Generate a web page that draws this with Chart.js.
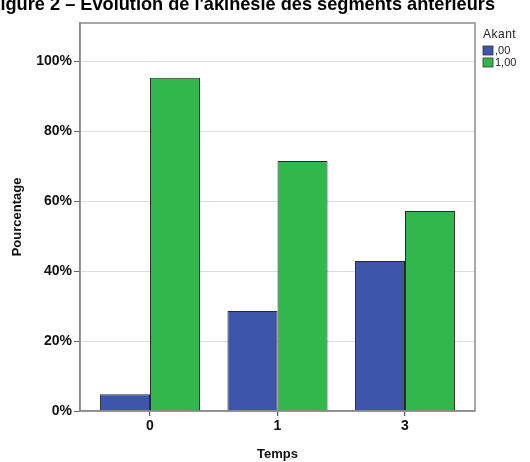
<!DOCTYPE html>
<html>
<head>
<meta charset="utf-8">
<script src="https://cdn.jsdelivr.net/npm/chart.js@4/dist/chart.umd.min.js"></script>
<style>
  html, body { margin: 0; padding: 0; background: #ffffff; }
  #wrap { width: 530px; height: 462px; position: relative; }
</style>
</head>
<body>
<div id="wrap"><canvas id="akinesieChart"></canvas></div>
<script>
// Data
const CATEGORIES = ["0", "1", "3"];
const SERIES_LABELS = [",00", "1,00"];
const AKANT_00 = [4.76, 28.57, 42.86];
const AKANT_100 = [95.24, 71.43, 57.14];
const Y_TICKS = [0, 20, 40, 60, 80, 100];

const TITLE_TEXT = "Figure 2 – Évolution de l'akinésie des segments antérieurs";
const LEGEND_TITLE = "Akant";

const BLUE = "#3d56aa";
const GREEN = "#30b84a";
const FONT = "'Liberation Sans', Arial, sans-serif";

/**
 * Draw the cropped figure title, the plot frame and the legend.
 */
const decorPlugin = {
  id: "decor",
  afterDraw(chart) {
    const ctx = chart.ctx;
    const area = chart.chartArea;
    ctx.save();

    // Frame around the plot area
    ctx.strokeStyle = "#8a8a8a";
    ctx.lineWidth = 1.5;
    ctx.strokeRect(area.left, area.top, area.right - area.left, area.bottom - area.top);

    // Title (cropped at top and left as in the original)
    ctx.fillStyle = "#000000";
    ctx.font = "bold 18.2px " + FONT;
    ctx.textAlign = "right";
    ctx.textBaseline = "alphabetic";
    ctx.fillText(TITLE_TEXT, 495, 10);

    // Legend
    ctx.textAlign = "left";
    ctx.textBaseline = "middle";
    ctx.fillStyle = "#222222";
    ctx.font = "12px " + FONT;
    ctx.letterSpacing = "0.5px";
    ctx.fillText(LEGEND_TITLE, 483, 35);
    ctx.letterSpacing = "0px";

    ctx.font = "11px " + FONT;
    chart.data.datasets.forEach((ds, i) => {
      const y = 46 + i * 12;
      ctx.fillStyle = ds.backgroundColor;
      ctx.fillRect(483, y, 10, 9);
      ctx.strokeStyle = "#333333";
      ctx.lineWidth = 0.8;
      ctx.strokeRect(483, y, 10, 9);
      ctx.fillStyle = "#222222";
      ctx.fillText(ds.label, 495, y + 5);
    });

    ctx.restore();
  }
};

const CTX = document.getElementById("akinesieChart").getContext("2d");

new Chart(CTX, {
  type: "bar",
  data: {
    datasets: [{
      label: SERIES_LABELS[0],
      data: AKANT_00.map((v, i) => ({ x: i, y: v })),
      backgroundColor: BLUE,
      borderColor: "#2a2a2a",
      borderWidth: 1,
      categoryPercentage: 0.785,
      barPercentage: 1.0
    }, {
      label: SERIES_LABELS[1],
      data: AKANT_100.map((v, i) => ({ x: i, y: v })),
      backgroundColor: GREEN,
      borderColor: "#2a2a2a",
      borderWidth: 1,
      categoryPercentage: 0.785,
      barPercentage: 1.0
    }]
  },
  options: {
    responsive: true,
    maintainAspectRatio: false,
    animation: false,
    layout: {
      padding: { top: 23, right: 55, left: 0, bottom: 0 }
    },
    plugins: {
      legend: { display: false },
      tooltip: { enabled: false }
    },
    scales: {
      x: {
        type: "linear",
        min: -0.549,
        max: 2.549,
        offset: false,
        afterBuildTicks: (scale) => {
          scale.ticks = CATEGORIES.map((c, i) => ({ value: i }));
        },
        afterFit: (scale) => {
          scale.height = 51;
        },
        grid: {
          offset: false,
          drawOnChartArea: false,
          drawTicks: true,
          tickLength: 5,
          tickColor: "#555555",
          lineWidth: 1.2
        },
        border: { display: true, color: "#8a8a8a", width: 1.5 },
        ticks: {
          padding: 2,
          color: "#111111",
          font: { family: FONT, size: 14, weight: "bold" },
          callback: (value) => CATEGORIES[value]
        },
        title: {
          display: true,
          text: "Temps",
          color: "#111111",
          padding: { top: 3, bottom: 0 },
          font: { family: FONT, size: 13, weight: "bold" }
        }
      },
      y: {
        min: 0,
        max: 110.9,
        afterBuildTicks: (scale) => {
          scale.ticks = Y_TICKS.map((v) => ({ value: v }));
        },
        afterFit: (scale) => {
          scale.width = 80;
        },
        grid: {
          drawOnChartArea: true,
          color: "#dedede",
          lineWidth: 1,
          drawTicks: true,
          tickLength: 6,
          tickColor: "#666666"
        },
        border: { display: true, color: "#8a8a8a", width: 1.5 },
        ticks: {
          padding: 2,
          color: "#111111",
          font: { family: FONT, size: 14, weight: "bold" },
          callback: (value) => value + "%"
        },
        title: {
          display: true,
          text: "Pourcentage",
          color: "#111111",
          padding: { top: 10, bottom: 4 },
          font: { family: FONT, size: 13, weight: "bold" }
        }
      }
    }
  },
  plugins: [decorPlugin]
});
</script>
</body>
</html>
